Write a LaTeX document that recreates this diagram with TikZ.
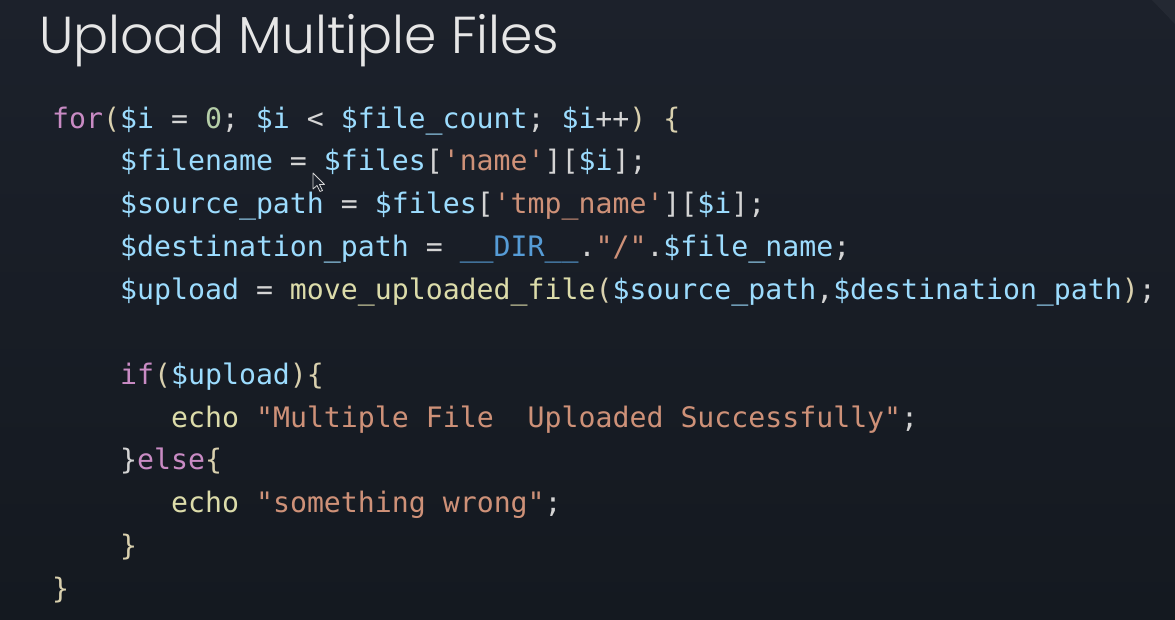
\documentclass[tikz,border=0pt]{standalone}
\usepackage{fontspec}
\usepackage{xcolor}
\usepackage{tikz}
\setmonofont{DejaVu Sans Mono}
\IfFontExistsTF{Poppins Light}{\newfontfamily\titlefont{Poppins Light}}{\newfontfamily\titlefont{Poppins}}

\definecolor{bgtop}{HTML}{1C212B}
\definecolor{bgbot}{HTML}{141920}
\definecolor{titlewhite}{HTML}{E6E6E6}
\definecolor{kwdpink}{HTML}{C98BC4}
\definecolor{varblue}{HTML}{9CDCFE}
\definecolor{numgreen}{HTML}{B5CEA8}
\definecolor{strorange}{HTML}{CE9178}
\definecolor{funyellow}{HTML}{DCDCAA}
\definecolor{cstblue}{HTML}{569CD6}
\definecolor{punctgrey}{HTML}{D4D4D4}
\definecolor{brkbeige}{HTML}{D9D0AE}

\newcommand{\kwd}[1]{\textcolor{kwdpink}{#1}}
\newcommand{\var}[1]{\textcolor{varblue}{#1}}
\newcommand{\num}[1]{\textcolor{numgreen}{#1}}
\newcommand{\str}[1]{\textcolor{strorange}{#1}}
\newcommand{\fun}[1]{\textcolor{funyellow}{#1}}
\newcommand{\cst}[1]{\textcolor{cstblue}{#1}}
\newcommand{\brk}[1]{\textcolor{brkbeige}{#1}}

\begin{document}
\begin{tikzpicture}[x=1pt,y=-1pt,
  codeline/.style={anchor=base west,inner sep=0pt,text=punctgrey,font=\ttfamily\fontsize{28.2}{34}\selectfont},
  slidetitle/.style={anchor=base west,inner sep=0pt,text=titlewhite,font=\titlefont\fontsize{52}{62}\selectfont}]
  \useasboundingbox (0,0) rectangle (1175,620);
  %background
  \fill[top color=bgtop,bottom color=bgbot] (0,0) rectangle (1175,620);
  \fill[white,opacity=0.04] (1152,0) -- (1175,0) -- (1175,24) -- cycle;
  %title
  \node[slidetitle] (title) at (39,54) {Upload Multiple Files};
  %code
  \frenchspacing
  \node[codeline] (l1) at (52,128.3) {\kwd{for}\brk{(}\var{\$i} = \num{0}; \var{\$i} < \var{\$file\_count}; \var{\$i}++\brk{)} \brk{\{}};
  \node[codeline] (l2) at (120,171) {\var{\$filename} = \var{\$files}[\str{'name'}][\var{\$i}];};
  \node[codeline] (l3) at (120,213.7) {\var{\$source\_path} = \var{\$files}[\str{'tmp\_name'}][\var{\$i}];};
  \node[codeline] (l4) at (120,256.4) {\var{\$destination\_path} = \cst{\_\_DIR\_\_}.\str{"/"}.\var{\$file\_name};};
  \node[codeline] (l5) at (120,299.1) {\var{\$upload} = \fun{move\_uploaded\_file}\brk{(}\var{\$source\_path},\var{\$destination\_path}\brk{)};};
  %if / else
  \node[codeline] (l7) at (120,384.5) {\kwd{if}\brk{(}\var{\$upload}\brk{)\{}};
  \node[codeline] (l8) at (171,427.2) {\fun{echo} \str{"Multiple File\ \ Uploaded Successfully"};};
  \node[codeline] (l9) at (120,469.9) {\}\kwd{else}\brk{\{}};
  \node[codeline] (l10) at (171,512.6) {\fun{echo} \str{"something wrong"};};
  \node[codeline] (l11) at (120,555.3) {\brk{\}}};
  \node[codeline] (l12) at (52,598) {\brk{\}}};
  %cursor
  \draw[fill=bgtop,draw=punctgrey,line width=0.8pt,line join=round]
    (313,173) -- (313,189) -- (317,185.5) -- (320,191.5) -- (322.5,190.5) -- (319.5,184.5) -- (324.5,184.5) -- cycle;
\end{tikzpicture}
\end{document}
